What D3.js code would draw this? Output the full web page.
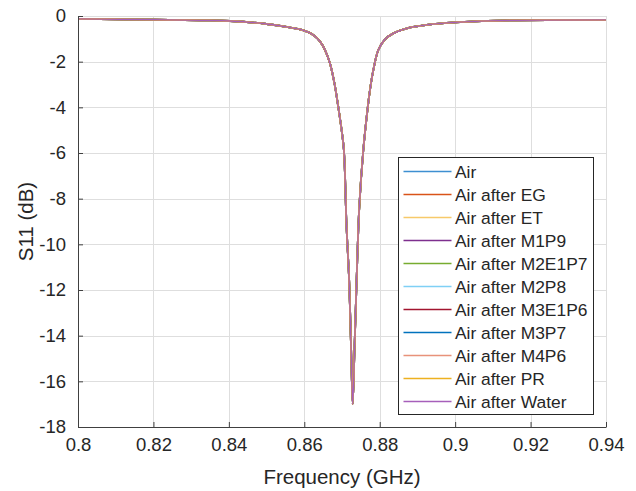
<!DOCTYPE html>
<html>
<head>
<meta charset="utf-8">
<script src="https://cdn.jsdelivr.net/npm/d3@7"></script>
<style>
  body { margin: 0; background: #fff; }
  text { font-family: "Liberation Sans", Arial, sans-serif; fill: #262626; }
</style>
</head>
<body>
<div class="graph-container"></div>
<script>
// Fréquences (GHz) et S11 (dB)
const freq = [0.800, 0.820, 0.8324, 0.8403, 0.8500, 0.8553, 0.8600, 0.8624, 0.8642, 0.8655,
  0.8668, 0.8680, 0.8690, 0.8699, 0.8705, 0.8712, 0.8719, 0.8724, 0.87284,
  0.87333, 0.87387, 0.87459, 0.87565, 0.87655, 0.87742, 0.8783, 0.87963, 0.8814,
  0.8836, 0.8872, 0.8925, 0.9000, 0.9119, 0.940];
const s11 = [-0.13, -0.16, -0.19, -0.22, -0.35, -0.48, -0.64, -0.83, -1.12, -1.49,
  -2.07, -2.95, -3.97, -5.0, -5.87, -9.2, -11.6, -14.5, -17.0,
  -14.5, -11.6, -8.35, -5.87, -4.41, -3.24, -2.37, -1.49, -1.02,
  -0.76, -0.54, -0.39, -0.28, -0.20, -0.17];

// Séries (toutes superposées sur la figure)
const seriesNames = ['Air', 'Air after EG', 'Air after ET', 'Air after M1P9', 'Air after M2E1P7',
  'Air after M2P8', 'Air after M3E1P6', 'Air after M3P7', 'Air after M4P6', 'Air after PR',
  'Air after Water'];
const seriesColors = ['#3d8fd1', '#d95319', '#f7c96a', '#7e2f8e', '#77ac30',
  '#7fd0f5', '#a2142f', '#0072bd', '#e8927a', '#edb120', '#a65fba'];

const xTicks = [0.8, 0.82, 0.84, 0.86, 0.88, 0.9, 0.92, 0.94];
const yTicks = [0, -2, -4, -6, -8, -10, -12, -14, -16, -18];

const data = freq.map((f, i) => ({ f: f, v: s11[i] }));

// Dimensions
const W = 636, H = 491;
const margin = { top: 16, right: 30, bottom: 64, left: 78 },
    width = W - margin.left - margin.right,
    height = H - margin.top - margin.bottom;

const svg = d3.select('.graph-container')
    .append('svg')
    .attr('width', W)
    .attr('height', H);

const g = svg.append('g')
    .attr('transform', `translate(${margin.left},${margin.top})`);

const x = d3.scaleLinear().domain([0.8, 0.94]).range([0, width]);
const y = d3.scaleLinear().domain([-18, 0]).range([height, 0]);

// Grille
g.append('g')
    .selectAll('line')
    .data(xTicks)
    .join('line')
    .attr('x1', d => Math.round(x(d)) + 0.5).attr('x2', d => Math.round(x(d)) + 0.5)
    .attr('y1', 0).attr('y2', height)
    .attr('stroke', '#dedede');
g.append('g')
    .selectAll('line')
    .data(yTicks)
    .join('line')
    .attr('y1', d => Math.round(y(d)) + 0.5).attr('y2', d => Math.round(y(d)) + 0.5)
    .attr('x1', 0).attr('x2', width)
    .attr('stroke', '#dedede');

// Courbes
g.append('clipPath').attr('id', 'clip')
    .append('rect').attr('width', width).attr('height', height);

const line = d3.line()
    .x(d => x(d.f))
    .y(d => y(d.v))
    .curve(d3.curveCatmullRom.alpha(0.5));

g.append('g')
    .attr('clip-path', 'url(#clip)')
    .selectAll('path')
    .data(seriesNames)
    .join('path')
    .attr('fill', 'none')
    .attr('stroke', (d, i) => seriesColors[i])
    .attr('stroke-width', (d, i) => i === seriesNames.length - 1 ? 1.3 : 1.8)
    .attr('d', () => line(data));

// Axes
const xAxis = g.append('g')
    .attr('transform', `translate(0,${height})`)
    .call(d3.axisBottom(x).tickValues(xTicks).tickSizeInner(-5).tickSizeOuter(0).tickPadding(11)
        .tickFormat(d3.format('~g')));
const yAxis = g.append('g')
    .call(d3.axisLeft(y).tickValues(yTicks).tickSizeInner(-5).tickSizeOuter(0).tickPadding(12)
        .tickFormat(d => d));

[xAxis, yAxis].forEach(a => {
  a.select('.domain').attr('stroke', '#404040');
  a.selectAll('.tick line').attr('stroke', '#404040');
  a.selectAll('.tick text').style('font-size', '18.5px').attr('fill', '#262626')
      .style('font-family', '"Liberation Sans", Arial, sans-serif');
});

// Titres des axes
svg.append('text')
    .attr('x', margin.left + width / 2)
    .attr('y', 484)
    .attr('text-anchor', 'middle')
    .style('font-size', '20.5px')
    .text('Frequency (GHz)');
svg.append('text')
    .attr('transform', `translate(33,${margin.top + height / 2}) rotate(-90)`)
    .attr('text-anchor', 'middle')
    .style('font-size', '20.5px')
    .text('S11 (dB)');

// Légende
const legend = svg.append('g').attr('transform', 'translate(398.5,157.5)');
legend.append('rect')
    .attr('width', 195).attr('height', 257)
    .attr('fill', '#fff').attr('stroke', '#262626');
const rows = legend.selectAll('g.row')
    .data(seriesNames)
    .join('g')
    .attr('class', 'row')
    .attr('transform', (d, i) => `translate(0,${Math.round(14 + i * 22.97)})`);
rows.append('line')
    .attr('x1', 5).attr('x2', 53)
    .attr('stroke', (d, i) => seriesColors[i])
    .attr('stroke-width', 1.6);
rows.append('text')
    .attr('x', 56.5).attr('dy', '0.36em')
    .style('font-size', '17.4px')
    .text(d => d);
</script>
</body>
</html>
